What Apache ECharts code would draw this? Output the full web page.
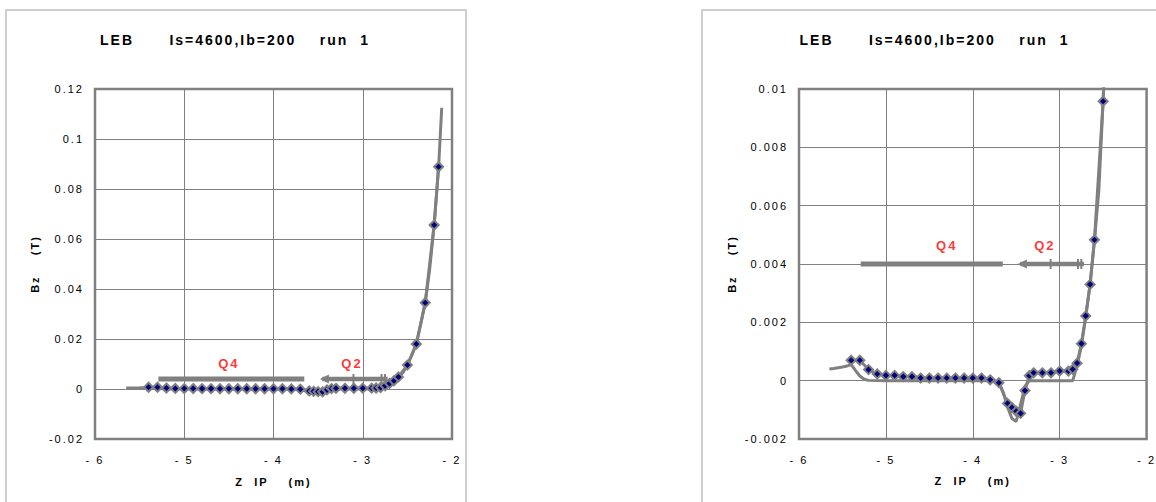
<!DOCTYPE html>
<html><head><meta charset="utf-8">
<script src="https://cdn.jsdelivr.net/npm/echarts@6/dist/echarts.min.js"></script>
<style>
html,body{margin:0;padding:0;background:#fff;}
#c{width:1156px;height:502px;}
#c text{letter-spacing:2px;white-space:pre;}
</style></head><body><div id="c"></div>
<script>
// ---- data ----
const titleText = 'LEB      Is=4600,Ib=200    run  1';
const xName = 'Z  IP    (m)';
const yName = 'Bz    (T)';
const xTickValues = [-6, -5, -4, -3, -2];
const xTickLabels = ['- 6', '- 5', '- 4', '- 3', '- 2'];

// calculated field (line without markers)
const calcZ  = [-5.65, -5.6, -5.5, -5.45, -5.4, -5.35, -5.3, -5.25, -5.2, -5.0, -4.5, -4.0, -3.75, -3.7, -3.65, -3.6, -3.55, -3.5, -3.45, -3.4, -3.35, -3.0, -2.85, -2.8, -2.75, -2.7, -2.65, -2.6, -2.55, -2.5, -2.45, -2.4, -2.35, -2.3, -2.25, -2.2, -2.15, -2.115];
const calcBz = [0.0004, 0.00042, 0.00047, 0.0005, 0.00055, 0.00035, 0.00016, 0.00005, 0.00001, 0, 0, 0, 0, -0.00005, -0.0004, -0.0009, -0.0013, -0.0014, -0.0008, -0.0002, 0, 0, 0, 0.0005, 0.0012, 0.0022, 0.0033, 0.0048, 0.0065, 0.0096, 0.0135, 0.018, 0.026, 0.0345, 0.048, 0.0656, 0.0889, 0.1125];

// measured field (diamond markers)
const measZ  = [-5.4, -5.3, -5.2, -5.1, -5.0, -4.9, -4.8, -4.7, -4.6, -4.5, -4.4, -4.3, -4.2, -4.1, -4.0, -3.9, -3.8, -3.7, -3.6, -3.55, -3.5, -3.45, -3.4, -3.35, -3.3, -3.2, -3.1, -3.0, -2.9, -2.85, -2.8, -2.75, -2.7, -2.65, -2.6, -2.5, -2.4, -2.3, -2.2, -2.15];
const measBz = [0.0007, 0.0007, 0.00038, 0.00023, 0.00018, 0.00018, 0.00014, 0.00014, 0.00009, 0.00009, 0.00009, 0.00009, 0.00009, 0.00009, 0.00009, 0.00009, 0.00003, -0.00007, -0.00078, -0.00092, -0.00105, -0.00112, -0.00034, 0.00017, 0.00027, 0.00027, 0.00027, 0.00033, 0.00033, 0.00039, 0.0006, 0.00127, 0.00222, 0.0033, 0.00483, 0.00958, 0.018, 0.0345, 0.0656, 0.0889];

// magnet extents
const q4Z = [-5.29, -3.655];
const q2Z = [-3.454, -3.43, -3.104, -2.789, -2.751, -2.721];
const magnetBz = 0.004;
const magnetNames = ['Q4', 'Q2'];
const labelZLeft  = [-4.5, -3.12];
const labelBzLeft = [0.0101, 0.0101];
const labelZRight  = [-4.3, -3.17];
const labelBzRight = [0.00465, 0.00465];

// axis ranges
const yLeft  = {min: -0.02,  max: 0.12, interval: 0.02};
const yRight = {min: -0.002, max: 0.01, interval: 0.002};

// ---- styles ----
const FONT = "'Liberation Sans', Arial, sans-serif";
const GRAY = '#808080';
const q2Symbols = ['none', 'triangle', 'rect', 'rect', 'rect', 'none'];
const q2Sizes = [0, [9, 9], [2, 10], [2, 10], [2, 10], 0];
const q2Rot = [0, 90, 0, 0, 0, 0];

const zip = (a, b) => a.map((v, i) => [v, b[i]]);

const chart = echarts.init(document.getElementById('c'), null, {renderer: 'svg'});

const grids = [
  {left: 95, top: 89, width: 357, height: 350},
  {left: 799, top: 89, width: 355, height: 350}
];
const yRanges = [yLeft, yRight];
const titleX = [235, 934.5];
const yNameGap = [55, 62];
const labelPos = [[labelZLeft, labelBzLeft], [labelZRight, labelBzRight]];

const option = {
  backgroundColor: '#fff',
  animation: false,
  title: titleX.map(x => ({
    text: titleText, left: x, top: 33, textAlign: 'center', padding: 0,
    textStyle: {fontSize: 14, fontWeight: 'bold', color: '#000', fontFamily: FONT}
  })),
  graphic: [
    {type: 'rect', shape: {x: 6, y: 10, width: 460, height: 520}, style: {fill: 'none', stroke: '#c0c0c0', lineWidth: 1.5}, silent: true, z: -10},
    {type: 'rect', shape: {x: 702, y: 10, width: 500, height: 520}, style: {fill: 'none', stroke: '#c0c0c0', lineWidth: 1.5}, silent: true, z: -10}
  ],
  grid: grids.map(g => Object.assign({show: true, borderColor: GRAY, borderWidth: 2.5, backgroundColor: 'transparent'}, g)),
  xAxis: grids.map((g, i) => ({
    type: 'value', gridIndex: i, min: -6, max: -2, interval: 1,
    axisLine: {show: false, onZero: false}, axisTick: {show: false},
    splitLine: {show: true, lineStyle: {color: GRAY, width: 1}},
    axisLabel: {
      fontSize: 11, color: '#000', fontFamily: FONT, margin: 15,
      formatter: v => { const k = xTickValues.indexOf(v); return k >= 0 ? xTickLabels[k] : ''; }
    },
    name: xName, nameLocation: 'middle', nameGap: i === 0 ? 37 : 36,
    nameTextStyle: {fontSize: 11, fontWeight: 'bold', color: '#000', fontFamily: FONT}
  })),
  yAxis: grids.map((g, i) => ({
    type: 'value', gridIndex: i, min: yRanges[i].min, max: yRanges[i].max, interval: yRanges[i].interval,
    axisLine: {show: false, onZero: false}, axisTick: {show: false},
    splitLine: {show: true, lineStyle: {color: GRAY, width: 1}},
    axisLabel: {fontSize: 11, color: '#000', fontFamily: FONT, margin: 11},
    name: yName, nameLocation: 'middle', nameGap: yNameGap[i], nameRotate: 90,
    nameTextStyle: {fontSize: 11, fontWeight: 'bold', color: '#000', fontFamily: FONT}
  })),
  series: []
};

grids.forEach((g, i) => {
  option.series.push(
    {type: 'line', xAxisIndex: i, yAxisIndex: i, data: zip(calcZ, calcBz), symbol: 'none',
     lineStyle: {color: GRAY, width: 3}, z: 2, silent: true},
    {type: 'line', xAxisIndex: i, yAxisIndex: i, data: q4Z.map(z => [z, magnetBz]), symbol: 'none',
     lineStyle: {color: GRAY, width: 5}, z: 2, silent: true},
    {type: 'line', xAxisIndex: i, yAxisIndex: i,
     data: q2Z.map((z, k) => ({value: [z, magnetBz], symbol: q2Symbols[k], symbolSize: q2Sizes[k], symbolRotate: q2Rot[k]})),
     itemStyle: {color: GRAY}, lineStyle: {color: GRAY, width: 4.5}, z: 2, silent: true},
    {type: 'line', xAxisIndex: i, yAxisIndex: i, data: zip(measZ, measBz), symbol: 'diamond', symbolSize: 9,
     showAllSymbol: true,
     itemStyle: {color: '#000080', borderColor: GRAY, borderWidth: 2},
     lineStyle: {color: GRAY, width: 3}, z: 3, silent: true},
    {type: 'scatter', xAxisIndex: i, yAxisIndex: i,
     data: magnetNames.map((n, k) => ({name: n, value: [labelPos[i][0][k], labelPos[i][1][k]]})),
     symbolSize: 1, itemStyle: {color: 'rgba(0,0,0,0)'},
     label: {show: true, position: 'inside', formatter: '{b}', color: '#ff0000', fontWeight: 'bold', fontSize: 13, fontFamily: FONT},
     z: 4, silent: true}
  );
});

chart.setOption(option);
</script></body></html>
